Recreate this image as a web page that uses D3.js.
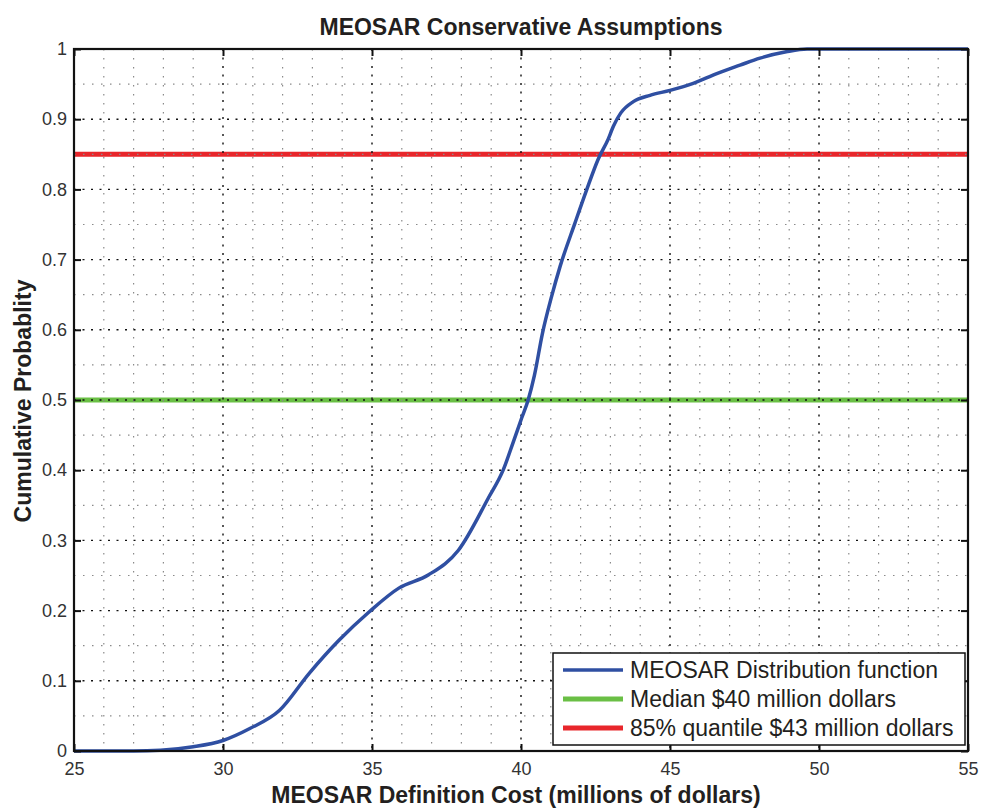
<!DOCTYPE html>
<html><head><meta charset="utf-8">
<script src="https://cdn.jsdelivr.net/npm/d3@7"></script>
<style>body{margin:0;background:#fff;} svg{display:block;}</style>
</head><body>
<svg id="chart" width="984" height="808"></svg>
<script>
const titleText = "MEOSAR Conservative Assumptions";
const xLabel = "MEOSAR Definition Cost (millions of dollars)";
const yLabel = "Cumulative Probablity";
const costs = [25, 26, 27, 27.9, 29, 30, 30.9, 31.9, 32.9, 33.9, 34.9, 35.9, 36.9, 37.9, 38.9, 39.4, 39.74, 40.02, 40.24, 40.45, 40.72, 41.03, 41.31, 41.81, 42.2, 42.59, 42.93, 43.1, 43.35, 43.77, 44.33, 45.0, 45.78, 46.57, 47.35, 48.02, 48.9, 49.6, 50, 55];
const probs = [0, 0, 0, 0.001, 0.006, 0.015, 0.032, 0.058, 0.111, 0.158, 0.198, 0.232, 0.251, 0.286, 0.36, 0.40, 0.44, 0.474, 0.5, 0.535, 0.595, 0.648, 0.69, 0.752, 0.799, 0.843, 0.872, 0.89, 0.909, 0.925, 0.934, 0.941, 0.951, 0.965, 0.977, 0.987, 0.996, 1.0, 1.0, 1.0];
const medianValue = 0.5;
const quantileValue = 0.85;
const legendLabels = ["MEOSAR Distribution function", "Median $40 million dollars", "85% quantile $43 million dollars"];
const xTicks = [25, 30, 35, 40, 45, 50, 55];
const yTicks = [0, 0.1, 0.2, 0.3, 0.4, 0.5, 0.6, 0.7, 0.8, 0.9, 1];
const xMinor = d3.range(26, 55, 1).filter(v => v % 5 !== 0);
const yMinor = d3.range(0.05, 1, 0.1);
const colors = ["#2f4fa2", "#6abf45", "#e8262b"];

const svg = d3.select("#chart");
const L = 74, R = 968, T = 49, B = 751;
const x = d3.scaleLinear().domain([25, 55]).range([L, R]);
const y = d3.scaleLinear().domain([0, 1]).range([B, T]);
const font = "'Liberation Sans', Arial, Helvetica, sans-serif";

// reference lines
svg.append("line").attr("x1", L).attr("x2", R).attr("y1", y(medianValue)).attr("y2", y(medianValue))
  .attr("stroke", colors[1]).attr("stroke-width", 5);
svg.append("line").attr("x1", L).attr("x2", R).attr("y1", y(quantileValue)).attr("y2", y(quantileValue))
  .attr("stroke", colors[2]).attr("stroke-width", 5);

// grid
const g = svg.append("g");
xMinor.forEach(v => g.append("line").attr("x1", x(v)).attr("x2", x(v)).attr("y1", T).attr("y2", B)
  .attr("stroke", "#8a8a8a").attr("stroke-width", 1.2).attr("stroke-dasharray", "1.5,7.5"));
yMinor.forEach(v => g.append("line").attr("x1", L).attr("x2", R).attr("y1", y(v)).attr("y2", y(v))
  .attr("stroke", "#8a8a8a").attr("stroke-width", 1.2).attr("stroke-dasharray", "1.5,7.5"));
xTicks.slice(1, -1).forEach(v => g.append("line").attr("x1", x(v)).attr("x2", x(v)).attr("y1", T).attr("y2", B)
  .attr("stroke", "#111").attr("stroke-width", 1.4).attr("stroke-dasharray", "2,6.5"));
yTicks.slice(1, -1).forEach(v => g.append("line").attr("x1", L).attr("x2", R).attr("y1", y(v)).attr("y2", y(v))
  .attr("stroke", "#111").attr("stroke-width", 1.4).attr("stroke-dasharray", "2,6.5"));

// curve
const pts = costs.map((c, i) => [c, probs[i]]);
svg.append("path").datum(pts)
  .attr("d", d3.line().x(d => x(d[0])).y(d => y(d[1])).curve(d3.curveMonotoneX))
  .attr("fill", "none").attr("stroke", colors[0]).attr("stroke-width", 3.5);

// axes
const xAxisB = d3.axisBottom(x).tickValues(xTicks).tickSize(-7).tickPadding(11).tickFormat(d3.format("d"));
const xAxisT = d3.axisTop(x).tickValues(xTicks).tickSize(-7).tickFormat("");
const yAxisL = d3.axisLeft(y).tickValues(yTicks).tickSize(-7).tickPadding(7).tickFormat(d => d === 0 || d === 1 ? d3.format("d")(d) : d3.format(".1f")(d));
const yAxisR = d3.axisRight(y).tickValues(yTicks).tickSize(-7).tickFormat("");
function style(sel) {
  sel.selectAll(".domain").remove();
  sel.selectAll(".tick line").attr("stroke", "#111").attr("stroke-width", 2);
  sel.selectAll("text").attr("font-family", font).attr("font-size", 18).attr("fill", "#333");
}
svg.append("g").attr("transform", `translate(0,${B})`).call(xAxisB).call(style);
svg.append("g").attr("transform", `translate(0,${T})`).call(xAxisT).call(style);
svg.append("g").attr("transform", `translate(${L},0)`).call(yAxisL).call(style);
svg.append("g").attr("transform", `translate(${R},0)`).call(yAxisR).call(style);

svg.append("rect").attr("x", L).attr("y", T).attr("width", R - L).attr("height", B - T)
  .attr("fill", "none").attr("stroke", "#111").attr("stroke-width", 2.2);

// titles
svg.append("text").attr("x", (L + R) / 2).attr("y", 35).attr("text-anchor", "middle")
  .attr("font-family", font).attr("font-weight", "bold").attr("font-size", 23).attr("fill", "#231f20").text(titleText);
svg.append("text").attr("x", 516).attr("y", 803).attr("text-anchor", "middle")
  .attr("font-family", font).attr("font-weight", "bold").attr("font-size", 23).attr("fill", "#231f20").text(xLabel);
svg.append("text").attr("transform", `translate(31,${(T + B) / 2 + 1}) rotate(-90)`).attr("text-anchor", "middle")
  .attr("font-family", font).attr("font-weight", "bold").attr("font-size", 23).attr("fill", "#231f20").text(yLabel);

// legend
const lg = svg.append("g");
lg.append("rect").attr("x", 553).attr("y", 653).attr("width", 412).attr("height", 92)
  .attr("fill", "#fff").attr("stroke", "#111").attr("stroke-width", 1.5);
legendLabels.forEach((t, i) => {
  const yy = 670 + i * 29;
  lg.append("line").attr("x1", 563).attr("x2", 623).attr("y1", yy).attr("y2", yy)
    .attr("stroke", colors[i]).attr("stroke-width", i === 0 ? 3.5 : 5);
  lg.append("text").attr("x", 630).attr("y", yy + 8).attr("font-family", font).attr("font-size", 23)
    .attr("fill", "#231f20").text(t);
});
</script>
</body></html>
